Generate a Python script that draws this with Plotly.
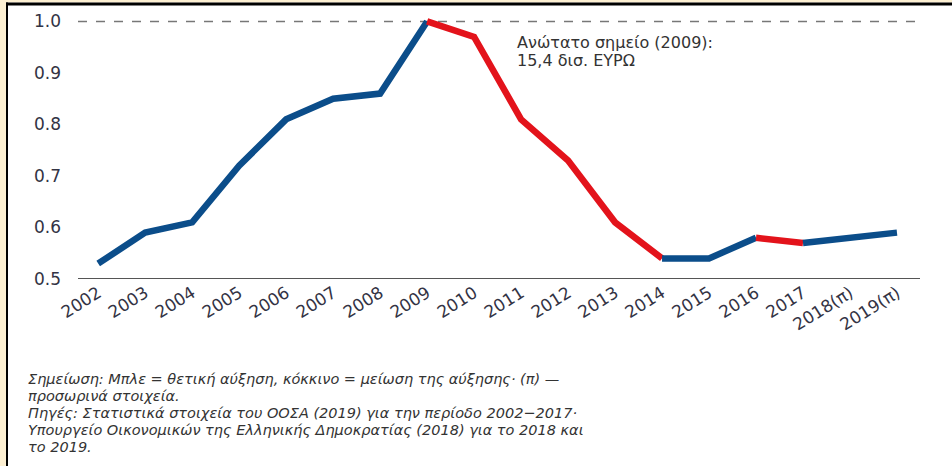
import plotly.graph_objects as go

years = ["2002", "2003", "2004", "2005", "2006", "2007", "2008", "2009", "2010",
         "2011", "2012", "2013", "2014", "2015", "2016", "2017", "2018(π)", "2019(π)"]
values = [0.53, 0.59, 0.61, 0.72, 0.81, 0.85, 0.86, 1.00, 0.97,
          0.81, 0.73, 0.61, 0.54, 0.54, 0.58, 0.57, 0.58, 0.59]
# segments: (start index, end index, colour key)
segments = [(0, 7, "up"), (7, 12, "down"), (12, 14, "up"), (14, 15, "down"), (15, 17, "up")]
y_ticks = [0.5, 0.6, 0.7, 0.8, 0.9, 1.0]
peak_note = ["Ανώτατο σημείο (2009):", "15,4 δισ. ΕΥΡΩ"]
footnote = ["Σημείωση: Μπλε = θετική αύξηση, κόκκινο = μείωση της αύξησης· (π) —",
            "προσωρινά στοιχεία.",
            "Πηγές: Στατιστικά στοιχεία του ΟΟΣΑ (2019) για την περίοδο 2002−2017·",
            "Υπουργείο Οικονομικών της Ελληνικής Δημοκρατίας (2018) για το 2018 και",
            "το 2019."]

COLORS = {"up": "#0b4d8a", "down": "#e3131b"}
W, H = 952, 466
ML, MR, MT, MB = 78, 32, 6, 187
PW, PH = W - ML - MR, H - MT - MB
CREAM = "#fdf0d2"

def px(x):
    return (x - ML) / PW

def py(y):
    return (H - MB - y) / PH

fig = go.Figure()
for s, e, k in segments:
    fig.add_trace(go.Scatter(
        x=list(range(s, e + 1)), y=values[s:e + 1], mode="lines",
        line=dict(color=COLORS[k], width=6.5), showlegend=False, hoverinfo="skip"))

shapes = [
    dict(type="rect", xref="paper", yref="paper", x0=px(0), x1=px(6), y0=py(H), y1=py(0),
         fillcolor=CREAM, line_width=0, layer="below"),
    dict(type="rect", xref="paper", yref="paper", x0=px(0), x1=px(W), y0=py(2.5), y1=py(0),
         fillcolor=CREAM, line_width=0, layer="below"),
    dict(type="rect", xref="paper", yref="paper", x0=px(6), x1=px(W), y0=py(5.5), y1=py(2.5),
         fillcolor="black", line_width=0, layer="above"),
    dict(type="rect", xref="paper", yref="paper", x0=px(6), x1=px(8), y0=py(H), y1=py(2.5),
         fillcolor="black", line_width=0, layer="above"),
    dict(type="line", xref="paper", yref="y", x0=0, x1=0.995, y0=1.0, y1=1.0,
         line=dict(color="#777777", width=1.5, dash="dash"), layer="below"),
    dict(type="line", xref="paper", yref="y", x0=0, x1=1, y0=0.5, y1=0.5,
         line=dict(color="#555555", width=2), layer="below"),
]

annotations = []
for i, line in enumerate(peak_note):
    annotations.append(dict(text=line, xref="paper", yref="paper", x=px(515), y=py(43 + 18 * i),
                            xanchor="left", yanchor="middle", align="left", showarrow=False,
                            font=dict(size=16, color="#333333")))
for i, line in enumerate(footnote):
    annotations.append(dict(text=f"<i>{line}</i>", xref="paper", yref="paper", x=px(26),
                            y=py(379 + 16.9 * i), xanchor="left", yanchor="middle",
                            align="left", showarrow=False,
                            font=dict(size=14.5, color="#333333")))

fig.update_layout(
    width=W, height=H,
    margin=dict(l=ML, r=MR, t=MT, b=MB, autoexpand=False),
    paper_bgcolor="white", plot_bgcolor="white",
    font=dict(family="DejaVu Sans", color="#333333"),
    shapes=shapes,
    annotations=annotations,
    xaxis=dict(range=[-0.43, 17.49], tickmode="array", tickvals=list(range(len(years))),
               ticktext=years, tickangle=-32, showgrid=False, zeroline=False, showline=False,
               ticks="", automargin=False, tickfont=dict(size=17, color="#333344")),
    yaxis=dict(range=[0.5, 1.03], tickmode="array", tickvals=y_ticks,
               ticktext=[f"{v:.1f}" for v in y_ticks], showgrid=False, zeroline=False,
               showline=False, ticks="", ticklabelstandoff=16, automargin=False,
               tickfont=dict(size=17, color="#333344")),
)

fig.write_html("out.html", config={"displayModeBar": False},
               post_script="document.body.style.margin='0';document.body.style.overflow='hidden';")
